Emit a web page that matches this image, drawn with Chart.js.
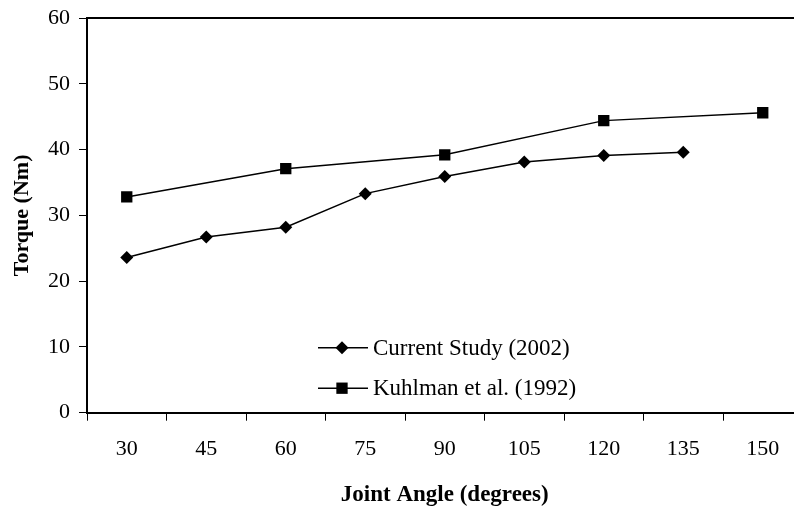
<!DOCTYPE html>
<html>
<head>
<meta charset="utf-8">
<script src="https://cdn.jsdelivr.net/npm/chart.js@4.4.1/dist/chart.umd.min.js"></script>
<style>
  html, body { margin: 0; padding: 0; background: #fff; overflow: hidden; }
  #wrap { width: 812px; height: 510px; }
</style>
</head>
<body>
<div id="wrap"><canvas id="torqueChart" width="812" height="510"></canvas></div>
<script>
// ----------------- datos -----------------
const ANGLES = ["30", "45", "60", "75", "90", "105", "120", "135", "150"];
const CURRENT_STUDY = [23.6, 26.7, 28.2, 33.3, 35.9, 38.1, 39.1, 39.6, null];
const KUHLMAN = [32.8, null, 37.1, null, 39.2, null, 44.4, null, 45.6];
const SERIES_LABELS = ["Current Study (2002)", "Kuhlman et al. (1992)"];
const Y_MIN = 0, Y_MAX = 60, Y_STEP = 10;

const SERIF = "'Liberation Serif', 'Times New Roman', serif";

// ----------------- plugins -----------------
// borde superior del área de trazado (el derecho queda fuera de la imagen)
const frameTop = {
  id: "frameTop",
  afterDraw(chart) {
    const { ctx, chartArea: a } = chart;
    ctx.save();
    ctx.strokeStyle = "#000";
    ctx.lineWidth = 2;
    ctx.beginPath();
    ctx.moveTo(a.left - 1, a.top);
    ctx.lineTo(a.right + 1, a.top);
    ctx.stroke();
    ctx.restore();
  },
};

function drawMarker(ctx, style, x, y, r) {
  ctx.beginPath();
  if (style === "rectRot") {
    ctx.moveTo(x, y - r);
    ctx.lineTo(x + r, y);
    ctx.lineTo(x, y + r);
    ctx.lineTo(x - r, y);
  } else {
    const s = Math.SQRT1_2 * r;
    ctx.rect(x - s, y - s, 2 * s, 2 * s);
  }
  ctx.closePath();
  ctx.fill();
}

// leyenda dentro del área, abajo al centro
const innerLegend = {
  id: "innerLegend",
  afterDraw(chart) {
    const { ctx, chartArea: a } = chart;
    const x0 = a.left + 231;
    const rows = [a.bottom - 65, a.bottom - 24.5];
    ctx.save();
    chart.data.datasets.forEach((ds, i) => {
      const y = rows[i];
      ctx.strokeStyle = "#000";
      ctx.lineWidth = 1.5;
      ctx.beginPath();
      ctx.moveTo(x0, y);
      ctx.lineTo(x0 + 50, y);
      ctx.stroke();
      ctx.fillStyle = "#000";
      drawMarker(ctx, ds.pointStyle, x0 + 24, y, ds.pointRadius);
      ctx.font = "23px " + SERIF;
      ctx.textBaseline = "middle";
      ctx.textAlign = "left";
      ctx.fillText(ds.label, x0 + 55, y + 1);
    });
    ctx.restore();
  },
};

// ----------------- gráfico -----------------
const ctx = document.getElementById("torqueChart").getContext("2d");
new Chart(ctx, {
  type: "line",
  data: {
    labels: ANGLES,
    datasets: [
      {
        label: SERIES_LABELS[0],
        data: CURRENT_STUDY,
        borderColor: "#000",
        backgroundColor: "#000",
        borderWidth: 1.5,
        pointStyle: "rectRot",
        pointRadius: 6.5,
        pointBorderWidth: 0,
        tension: 0,
        spanGaps: true,
      },
      {
        label: SERIES_LABELS[1],
        data: KUHLMAN,
        borderColor: "#000",
        backgroundColor: "#000",
        borderWidth: 1.5,
        pointStyle: "rect",
        pointRadius: 8,
        pointBorderWidth: 0,
        tension: 0,
        spanGaps: true,
      },
    ],
  },
  options: {
    animation: false,
    responsive: false,
    maintainAspectRatio: false,
    layout: { padding: { top: 18, right: 9.5, left: 0, bottom: 0 } },
    plugins: { legend: { display: false }, tooltip: { enabled: false } },
    scales: {
      x: {
        type: "category",
        offset: true,
        grid: {
          offset: true,
          drawOnChartArea: false,
          drawTicks: true,
          tickLength: 8,
          color: "#000",
          lineWidth: 1,
        },
        border: { display: true, color: "#000", width: 2 },
        ticks: {
          color: "#000",
          font: { family: SERIF, size: 22 },
          padding: 15,
          maxRotation: 0,
          autoSkip: false,
        },
        title: {
          display: true,
          text: "Joint Angle (degrees)",
          color: "#000",
          font: { family: SERIF, size: 23, weight: "bold" },
          padding: { top: 0, bottom: 1 },
        },
        afterFit(scale) {
          scale.height = 97.3;
          scale.paddingLeft = 0;
          scale.paddingRight = 0;
        },
      },
      y: {
        min: Y_MIN,
        max: Y_MAX,
        grid: {
          drawOnChartArea: false,
          drawTicks: true,
          tickLength: 8,
          color: "#000",
          lineWidth: 1,
        },
        border: { display: true, color: "#000", width: 2 },
        ticks: {
          stepSize: Y_STEP,
          color: "#000",
          font: { family: SERIF, size: 22 },
          padding: 9,
        },
        title: {
          display: true,
          text: "Torque (Nm)",
          color: "#000",
          font: { family: SERIF, size: 22, weight: "bold" },
          padding: { top: 9, bottom: 0 },
        },
        afterFit(scale) {
          scale.width = 87;
          scale.paddingTop = 0;
          scale.paddingBottom = 0;
        },
      },
    },
  },
  plugins: [frameTop, innerLegend],
});
</script>
</body>
</html>
